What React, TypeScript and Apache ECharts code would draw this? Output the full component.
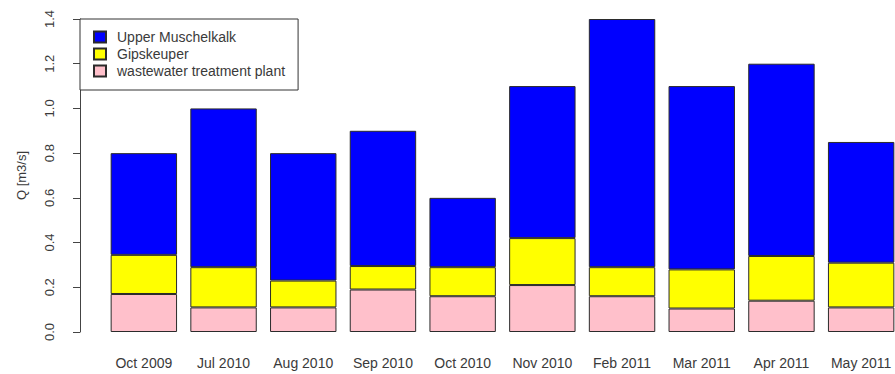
import React, { useEffect, useRef } from "react";
import * as echarts from "echarts";

// Sampling campaigns
const campaigns = [
  "Oct 2009", "Jul 2010", "Aug 2010", "Sep 2010", "Oct 2010",
  "Nov 2010", "Feb 2011", "Mar 2011", "Apr 2011", "May 2011",
];

// Discharge contributions per source, Q in m3/s (stacked bottom to top)
const wastewaterPlant = [0.17, 0.11, 0.11, 0.19, 0.16, 0.21, 0.16, 0.105, 0.14, 0.11];
const gipskeuper = [0.175, 0.18, 0.12, 0.105, 0.13, 0.21, 0.13, 0.175, 0.2, 0.2];
const upperMuschelkalk = [0.455, 0.71, 0.57, 0.605, 0.31, 0.68, 1.11, 0.82, 0.86, 0.54];

const yTicks = { min: 0, max: 1.4, interval: 0.2 };

const FONT = "'Liberation Sans', Arial, sans-serif";
const TEXT = "#3a3a3a";

export default function App() {
  const ref = useRef<HTMLDivElement>(null);

  useEffect(() => {
    if (!ref.current) return;
    const chart = echarts.init(ref.current, undefined, { renderer: "svg" });
    const barStyle = (color: string) => ({
      color,
      borderColor: "#2b2b2b",
      borderWidth: 1,
    });
    chart.setOption({
      animation: false,
      backgroundColor: "#ffffff",
      textStyle: { fontFamily: FONT },
      grid: { left: 104, right: 0, top: 19, bottom: 42, containLabel: false },
      legend: {
        orient: "vertical",
        left: 80,
        top: 19,
        padding: [11, 13, 12, 13],
        borderColor: "#333",
        borderWidth: 1,
        backgroundColor: "#fff",
        itemWidth: 12,
        itemHeight: 11,
        itemGap: 3,
        icon: "rect",
        selectedMode: false,
        data: ["Upper Muschelkalk", "Gipskeuper", "wastewater treatment plant"],
        textStyle: {
          fontFamily: FONT,
          fontSize: 14,
          lineHeight: 14,
          color: TEXT,
          padding: [0, 0, 0, 6],
        },
      },
      xAxis: {
        type: "category",
        data: campaigns,
        axisLine: { show: false },
        axisTick: { show: false },
        axisLabel: {
          fontFamily: FONT,
          fontSize: 14,
          color: TEXT,
          margin: 24,
          interval: 0,
        },
      },
      yAxis: {
        type: "value",
        min: yTicks.min,
        max: yTicks.max,
        interval: yTicks.interval,
        offset: 24,
        name: "Q [m3/s]",
        nameLocation: "middle",
        nameRotate: 90,
        nameGap: 52,
        nameTextStyle: { fontFamily: FONT, fontSize: 13, color: TEXT },
        splitLine: { show: false },
        axisLine: { show: true, lineStyle: { color: "#444", width: 1 } },
        axisTick: { show: true, length: 7, lineStyle: { color: "#444" } },
        axisLabel: {
          fontFamily: FONT,
          fontSize: 13,
          color: TEXT,
          rotate: 90,
          margin: 24,
          formatter: (v: number) => v.toFixed(1),
        },
      },
      series: [
        {
          name: "wastewater treatment plant",
          type: "bar",
          stack: "Q",
          data: wastewaterPlant,
          barCategoryGap: "16.67%",
          itemStyle: barStyle("#FFC0CB"),
        },
        {
          name: "Gipskeuper",
          type: "bar",
          stack: "Q",
          data: gipskeuper,
          barCategoryGap: "16.67%",
          itemStyle: barStyle("#FFFF00"),
        },
        {
          name: "Upper Muschelkalk",
          type: "bar",
          stack: "Q",
          data: upperMuschelkalk,
          barCategoryGap: "16.67%",
          itemStyle: barStyle("#0000FF"),
        },
      ],
    });
    return () => chart.dispose();
  }, []);

  // The plotting region runs slightly past the right edge of the frame,
  // so the last bar is cut off by the outer box.
  return (
    <div style={{ position: "fixed", left: 0, top: 0, width: 895, height: 374, overflow: "hidden" }}>
      <div ref={ref} style={{ width: 901, height: 374 }} />
    </div>
  );
}
